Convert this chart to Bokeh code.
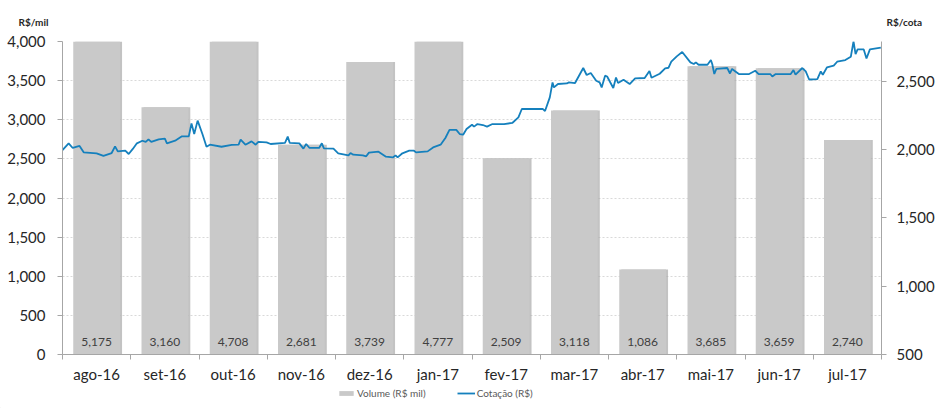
from bokeh.plotting import figure
from bokeh.layouts import column
from bokeh.models import (Range1d, LinearAxis, FixedTicker, NumeralTickFormatter,
                          Legend, LegendItem)
from bokeh.core.properties import value
from bokeh.embed import file_html
from bokeh.resources import INLINE

# ---------------- data ----------------
months = ["ago-16", "set-16", "out-16", "nov-16", "dez-16", "jan-17",
          "fev-17", "mar-17", "abr-17", "mai-17", "jun-17", "jul-17"]
volume = [5175, 3160, 4708, 2681, 3739, 4777, 2509, 3118, 1086, 3685, 3659, 2740]

# price series: position in months (0 = start of ago-16) and price (R$)
price_t = [0.00, 0.09, 0.15, 0.25, 0.31, 0.50, 0.60, 0.72, 0.77, 0.81, 0.92, 0.97,
           1.03, 1.09, 1.17, 1.22, 1.26, 1.30, 1.41, 1.50, 1.53, 1.65, 1.75, 1.85,
           1.89, 1.93, 1.98, 2.05, 2.11, 2.16, 2.33, 2.48, 2.58, 2.61, 2.68, 2.77,
           2.83, 2.87, 2.99, 3.05, 3.26, 3.30, 3.33, 3.47, 3.53, 3.57, 3.62, 3.76,
           3.80, 3.83, 3.97, 4.04, 4.19, 4.22, 4.26, 4.40, 4.45, 4.49, 4.63, 4.74,
           4.84, 4.88, 4.91, 4.98, 5.08, 5.15, 5.18, 5.35, 5.43, 5.54, 5.61, 5.67,
           5.77, 5.82, 5.87, 5.92, 6.00, 6.03, 6.08, 6.16, 6.22, 6.30, 6.47, 6.59,
           6.68, 6.73, 7.04, 7.07, 7.14, 7.18, 7.20, 7.26, 7.39, 7.42, 7.51, 7.63,
           7.68, 7.74, 7.82, 7.87, 7.90, 7.95, 7.98, 8.07, 8.11, 8.14, 8.22, 8.31,
           8.39, 8.53, 8.60, 8.63, 8.75, 8.83, 8.88, 8.92, 9.00, 9.08, 9.20, 9.25,
           9.28, 9.32, 9.45, 9.50, 9.52, 9.55, 9.58, 9.74, 9.78, 9.81, 9.91, 10.06,
           10.15, 10.20, 10.37, 10.40, 10.45, 10.67, 10.71, 10.74, 10.84, 10.89, 10.94, 11.06,
           11.11, 11.14, 11.20, 11.30, 11.35, 11.47, 11.55, 11.59, 11.62, 11.65, 11.74, 11.78,
           11.83, 11.99]
price = [1996, 2045, 2011, 2026, 1979, 1972, 1953, 1974, 2023, 1986, 1991, 1967,
         2004, 2045, 2064, 2055, 2074, 2055, 2074, 2079, 2045, 2064, 2096, 2096,
         2191, 2113, 2211, 2113, 2020, 2035, 2020, 2033, 2035, 2072, 2035, 2059,
         2035, 2055, 2052, 2040, 2048, 2094, 2048, 2045, 2006, 2040, 2011, 2011,
         2045, 2008, 2006, 1972, 1957, 1974, 1962, 1957, 1950, 1977, 1984, 1947,
         1942, 1957, 1942, 1972, 1991, 1991, 1979, 1986, 2015, 2035, 2084, 2143,
         2143, 2113, 2108, 2150, 2181, 2167, 2186, 2179, 2167, 2186, 2186, 2194,
         2235, 2296, 2296, 2281, 2381, 2491, 2454, 2479, 2483, 2491, 2486, 2596,
         2545, 2560, 2503, 2491, 2454, 2540, 2534, 2450, 2527, 2486, 2510, 2479,
         2520, 2523, 2574, 2525, 2554, 2593, 2598, 2642, 2681, 2713, 2637, 2625,
         2637, 2620, 2620, 2654, 2625, 2552, 2589, 2596, 2556, 2589, 2552, 2552,
         2576, 2552, 2552, 2534, 2552, 2552, 2581, 2547, 2596, 2571, 2512, 2515,
         2571, 2547, 2600, 2613, 2642, 2654, 2678, 2790, 2698, 2732, 2732, 2666,
         2732, 2746]

left_ticks = [0, 500, 1000, 1500, 2000, 2500, 3000, 3500, 4000]
right_ticks = [500, 1000, 1500, 2000, 2500]
unit_left = "R$/mil"
unit_right = "R$/cota"
series_names = ["Volume (R$ mil)", "Cotação (R$)"]

# ---------------- styling ----------------
FONT = "Lato"
TXT = "#262626"
AXIS = "#A6A6A6"
BAR = "#C9C9C9"
LINE = "#1580BD"
W = 937
TOP_H = 31
MAIN_H = 354
LEG_H = 408 - TOP_H - MAIN_H

centers = [i + 0.5 for i in range(len(months))]
labels = [f"{v:,}" for v in volume]


def strip(height):
    f = figure(width=W, height=height, x_range=Range1d(0, W), y_range=Range1d(0, height),
               output_backend="svg", toolbar_location=None, frame_align=False,
               min_border=0, x_axis_type=None, y_axis_type=None)
    f.outline_line_color = None
    f.xgrid.visible = False
    f.ygrid.visible = False
    return f


# ---- top strip: unit captions ----
top = strip(TOP_H)
top.text(x=[18], y=[TOP_H - 21], text=[unit_left], text_baseline="middle",
         text_font=value(FONT), text_font_size="10px", text_font_style="bold",
         text_color=TXT)
top.text(x=[886], y=[TOP_H - 21], text=[unit_right], text_baseline="middle",
         text_font=value(FONT), text_font_size="10px", text_font_style="bold",
         text_color=TXT)

# ---- main chart ----
p = figure(width=W, height=MAIN_H, x_range=Range1d(0, 12), y_range=Range1d(0, 4000),
           output_backend="svg", toolbar_location=None, frame_align=False,
           min_border_left=62, min_border_right=56, min_border_top=10, min_border_bottom=31)
p.extra_y_ranges = {"right": Range1d(500, 2790)}
p.outline_line_color = None
p.background_fill_color = "white"

p.vbar(x=[c + 0.03 for c in centers], top=volume, width=0.685, bottom=0,
       fill_color="#A9A9A9", line_color=None, fill_alpha=0.7)
p.vbar(x=centers, top=volume, width=0.685, bottom=0, fill_color=BAR, line_color=None)
p.text(x=centers, y=[0] * len(centers), text=labels, text_align="center",
       text_baseline="middle", y_offset=-12.5, text_font=value(FONT),
       text_font_size="12px", text_color="#404040")
p.line(price_t, price, y_range_name="right", line_color=LINE, line_width=1.8)

p.xaxis.ticker = FixedTicker(ticks=centers, minor_ticks=list(range(13)))
p.xaxis.major_label_overrides = {c: m for c, m in zip(centers, months)}
p.xaxis.major_tick_line_color = None
p.xaxis.major_tick_out = 0
p.xaxis.major_tick_in = 0
p.xaxis.minor_tick_out = 5
p.xaxis.minor_tick_in = 0
p.xaxis.minor_tick_line_color = AXIS
p.xaxis.axis_line_color = AXIS
p.xaxis.major_label_standoff = 5
p.xaxis.major_label_text_font = FONT
p.xaxis.major_label_text_font_size = "15px"
p.xaxis.major_label_text_color = TXT

p.yaxis.ticker = FixedTicker(ticks=left_ticks)
p.yaxis.formatter = NumeralTickFormatter(format="0,0")
p.yaxis.axis_line_color = AXIS
p.yaxis.major_tick_line_color = AXIS
p.yaxis.major_tick_out = 5
p.yaxis.major_tick_in = 0
p.yaxis.minor_tick_line_color = None
p.yaxis.major_label_standoff = 12
p.yaxis.major_label_text_font = FONT
p.yaxis.major_label_text_font_size = "15px"
p.yaxis.major_label_text_color = TXT

raxis = LinearAxis(y_range_name="right", ticker=FixedTicker(ticks=right_ticks),
                   formatter=NumeralTickFormatter(format="0,0"))
raxis.axis_line_color = AXIS
raxis.major_tick_line_color = AXIS
raxis.major_tick_out = 5
raxis.major_tick_in = 0
raxis.minor_tick_line_color = None
raxis.major_label_standoff = 10
raxis.major_label_text_font = FONT
raxis.major_label_text_font_size = "15px"
raxis.major_label_text_color = TXT
p.add_layout(raxis, "right")

p.xgrid.grid_line_color = None
p.ygrid.ticker = FixedTicker(ticks=left_ticks)
p.ygrid.grid_line_color = "#D9D9D9"
p.ygrid.grid_line_dash = "2 2"

# ---- legend strip (swatch renderers sit outside the visible range) ----
leg = strip(LEG_H)
r_bar = leg.vbar(x=[-100], top=[1], width=1, fill_color=BAR, line_color=None)
r_line = leg.line(x=[-100, -90], y=[1, 1], line_color=LINE, line_width=1.8)
legend = Legend(items=[LegendItem(label=series_names[0], renderers=[r_bar]),
                       LegendItem(label=series_names[1], renderers=[r_line])],
                orientation="horizontal", location=(337, LEG_H - 14), glyph_width=18,
                glyph_height=6, label_standoff=2, spacing=31, padding=0, margin=0,
                border_line_color=None, background_fill_alpha=0,
                label_text_font=FONT, label_text_font_size="10px",
                label_text_color="#595959", label_height=12)
leg.add_layout(legend)

layout = column(top, p, leg, spacing=0)
open("out.html", "w").write(file_html(layout, INLINE))
